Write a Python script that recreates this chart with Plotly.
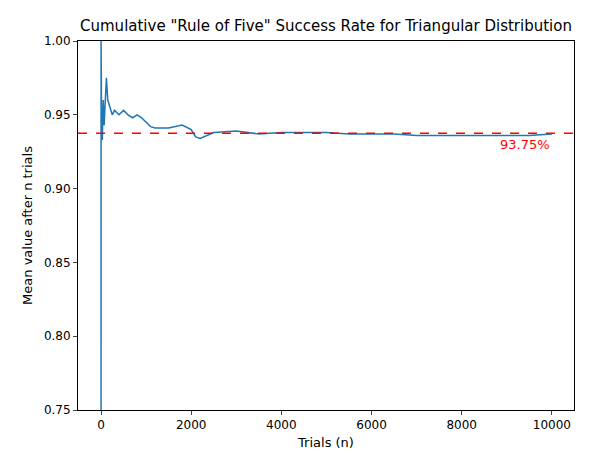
import plotly.graph_objects as go

# values
trials = [1, 2, 3, 5, 8, 10, 15, 20, 30, 40, 50, 60, 70, 80, 100, 120, 150, 200, 250, 300,
          400, 500, 600, 700, 800, 900, 1000, 1100, 1200, 1500, 1800, 2000, 2100, 2200, 2500,
          3000, 3500, 4000, 4500, 5000, 5500, 6000, 6500, 7000, 7500, 8000, 8500, 9000, 9500, 10000]
mean_vals = [0.5, 1.0, 0.667, 0.8, 0.875, 0.9, 0.933, 0.95, 0.933, 0.95, 0.96, 0.95, 0.943, 0.95,
             0.96, 0.975, 0.96, 0.955, 0.95, 0.953, 0.95, 0.953, 0.95, 0.948, 0.95, 0.948, 0.945,
             0.942, 0.941, 0.941, 0.943, 0.940, 0.935, 0.934, 0.938, 0.939, 0.937, 0.938, 0.938,
             0.938, 0.937, 0.937, 0.937, 0.936, 0.936, 0.936, 0.936, 0.936, 0.936, 0.937]
target = 0.9375
x_ticks = [0, 2000, 4000, 6000, 8000, 10000]

fig = go.Figure()
fig.add_trace(go.Scatter(x=trials, y=mean_vals, mode="lines", line=dict(color="#1f77b4", width=1.5)))
fig.add_hline(y=target, line=dict(color="red", dash="dash", width=1.5))
fig.add_annotation(x=10000, y=target, text=f"{target*100:.2f}%", showarrow=False,
                   xanchor="right", yanchor="top", yshift=-2, font=dict(color="red", size=13))

axis = dict(showline=True, linecolor="black", mirror=True, ticks="outside", ticklen=4,
            showgrid=False, zeroline=False, automargin=False,
            tickfont=dict(size=12, color="black"))
fig.update_layout(
    width=600, height=455, plot_bgcolor="white", paper_bgcolor="white",
    font=dict(family="DejaVu Sans", color="black"),
    margin=dict(l=70, r=34, t=33, b=53), showlegend=False,
    title=dict(text='Cumulative "Rule of Five" Success Rate for Triangular Distribution',
               x=0.53, xanchor="center", y=1 - 18 / 455, yanchor="middle", font=dict(size=15)),
    xaxis=dict(axis, range=[-510, 10490], tickvals=x_ticks, ticktext=[str(t) for t in x_ticks],
               title=dict(text="Trials (n)", font=dict(size=13), standoff=6)),
    yaxis=dict(axis, range=[0.75, 1.0], tickformat=".2f", dtick=0.05,
               title=dict(text="Mean value after n trials", font=dict(size=13), standoff=8)),
)
fig.write_html("out.html")
